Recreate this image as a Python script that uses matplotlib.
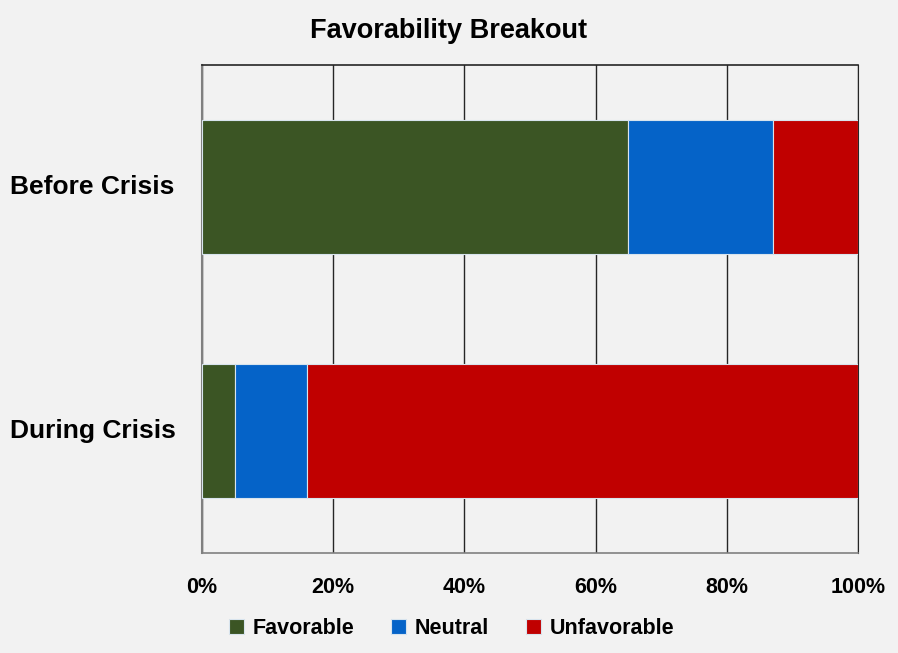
import matplotlib
matplotlib.use("Agg")
import matplotlib.pyplot as plt
from matplotlib.ticker import FuncFormatter
from matplotlib.transforms import blended_transform_factory

categories = ["Before Crisis", "During Crisis"]
series_names = ["Favorable", "Neutral", "Unfavorable"]
favorable = [65, 5]
neutral = [22, 11]
unfavorable = [13, 84]
tick_values = [0, 20, 40, 60, 80, 100]

colors = ["#3b5524", "#0563c8", "#c00000"]
bg = "#f2f2f2"

plt.rcParams["font.family"] = ["Liberation Sans", "DejaVu Sans"]

fig = plt.figure(figsize=(8.98, 6.53), dpi=100, facecolor=bg)
ax = fig.add_axes([0.2249, 0.1531, 0.7306, 0.7474], facecolor=bg)

ypos = list(range(len(categories)))
left = [0] * len(categories)
for name, vals, col in zip(series_names, [favorable, neutral, unfavorable], colors):
    ax.barh(ypos, vals, left=left, height=0.553, color=col, label=name,
            edgecolor="#d8e4ee", linewidth=0.8, zorder=3)
    left = [a + b for a, b in zip(left, vals)]

ax.set_xlim(0, 100)
ax.set_ylim(len(categories) - 0.5, -0.5)
ax.set_xticks(tick_values)
ax.xaxis.set_major_formatter(FuncFormatter(lambda v, p: f"{int(v)}%"))
ax.set_yticks(ypos)
ax.set_yticklabels([])
ax.tick_params(axis="both", length=0)
ax.tick_params(axis="x", pad=17, labelsize=15.5)
for lbl in ax.get_xticklabels():
    lbl.set_fontweight("bold")

# category labels, left-aligned near the figure edge
trans = blended_transform_factory(fig.transFigure, ax.transData)
for y, cat in zip(ypos, categories):
    ax.text(0.011, y, cat, transform=trans, ha="left", va="center",
            fontsize=19, fontweight="bold", clip_on=False)

ax.grid(axis="x", color="#262626", linewidth=1.0, zorder=1)
ax.spines["top"].set_color("#262626")
ax.spines["top"].set_linewidth(1.2)
ax.spines["right"].set_color("#262626")
ax.spines["left"].set_color("#808080")
ax.spines["left"].set_linewidth(1.5)
ax.spines["bottom"].set_color("#808080")
ax.spines["bottom"].set_linewidth(1.2)

fig.text(0.5, 0.953, "Favorability Breakout", ha="center", va="center",
         fontsize=19.5, fontweight="bold")

leg = fig.legend(loc="center", bbox_to_anchor=(0.503, 0.037), ncol=3, frameon=False,
                 fontsize=15.5, handlelength=0.7, handleheight=0.7, handletextpad=0.4,
                 columnspacing=1.7)
for t in leg.get_texts():
    t.set_fontweight("bold")

fig.savefig("out.png", dpi=100, facecolor=bg)
